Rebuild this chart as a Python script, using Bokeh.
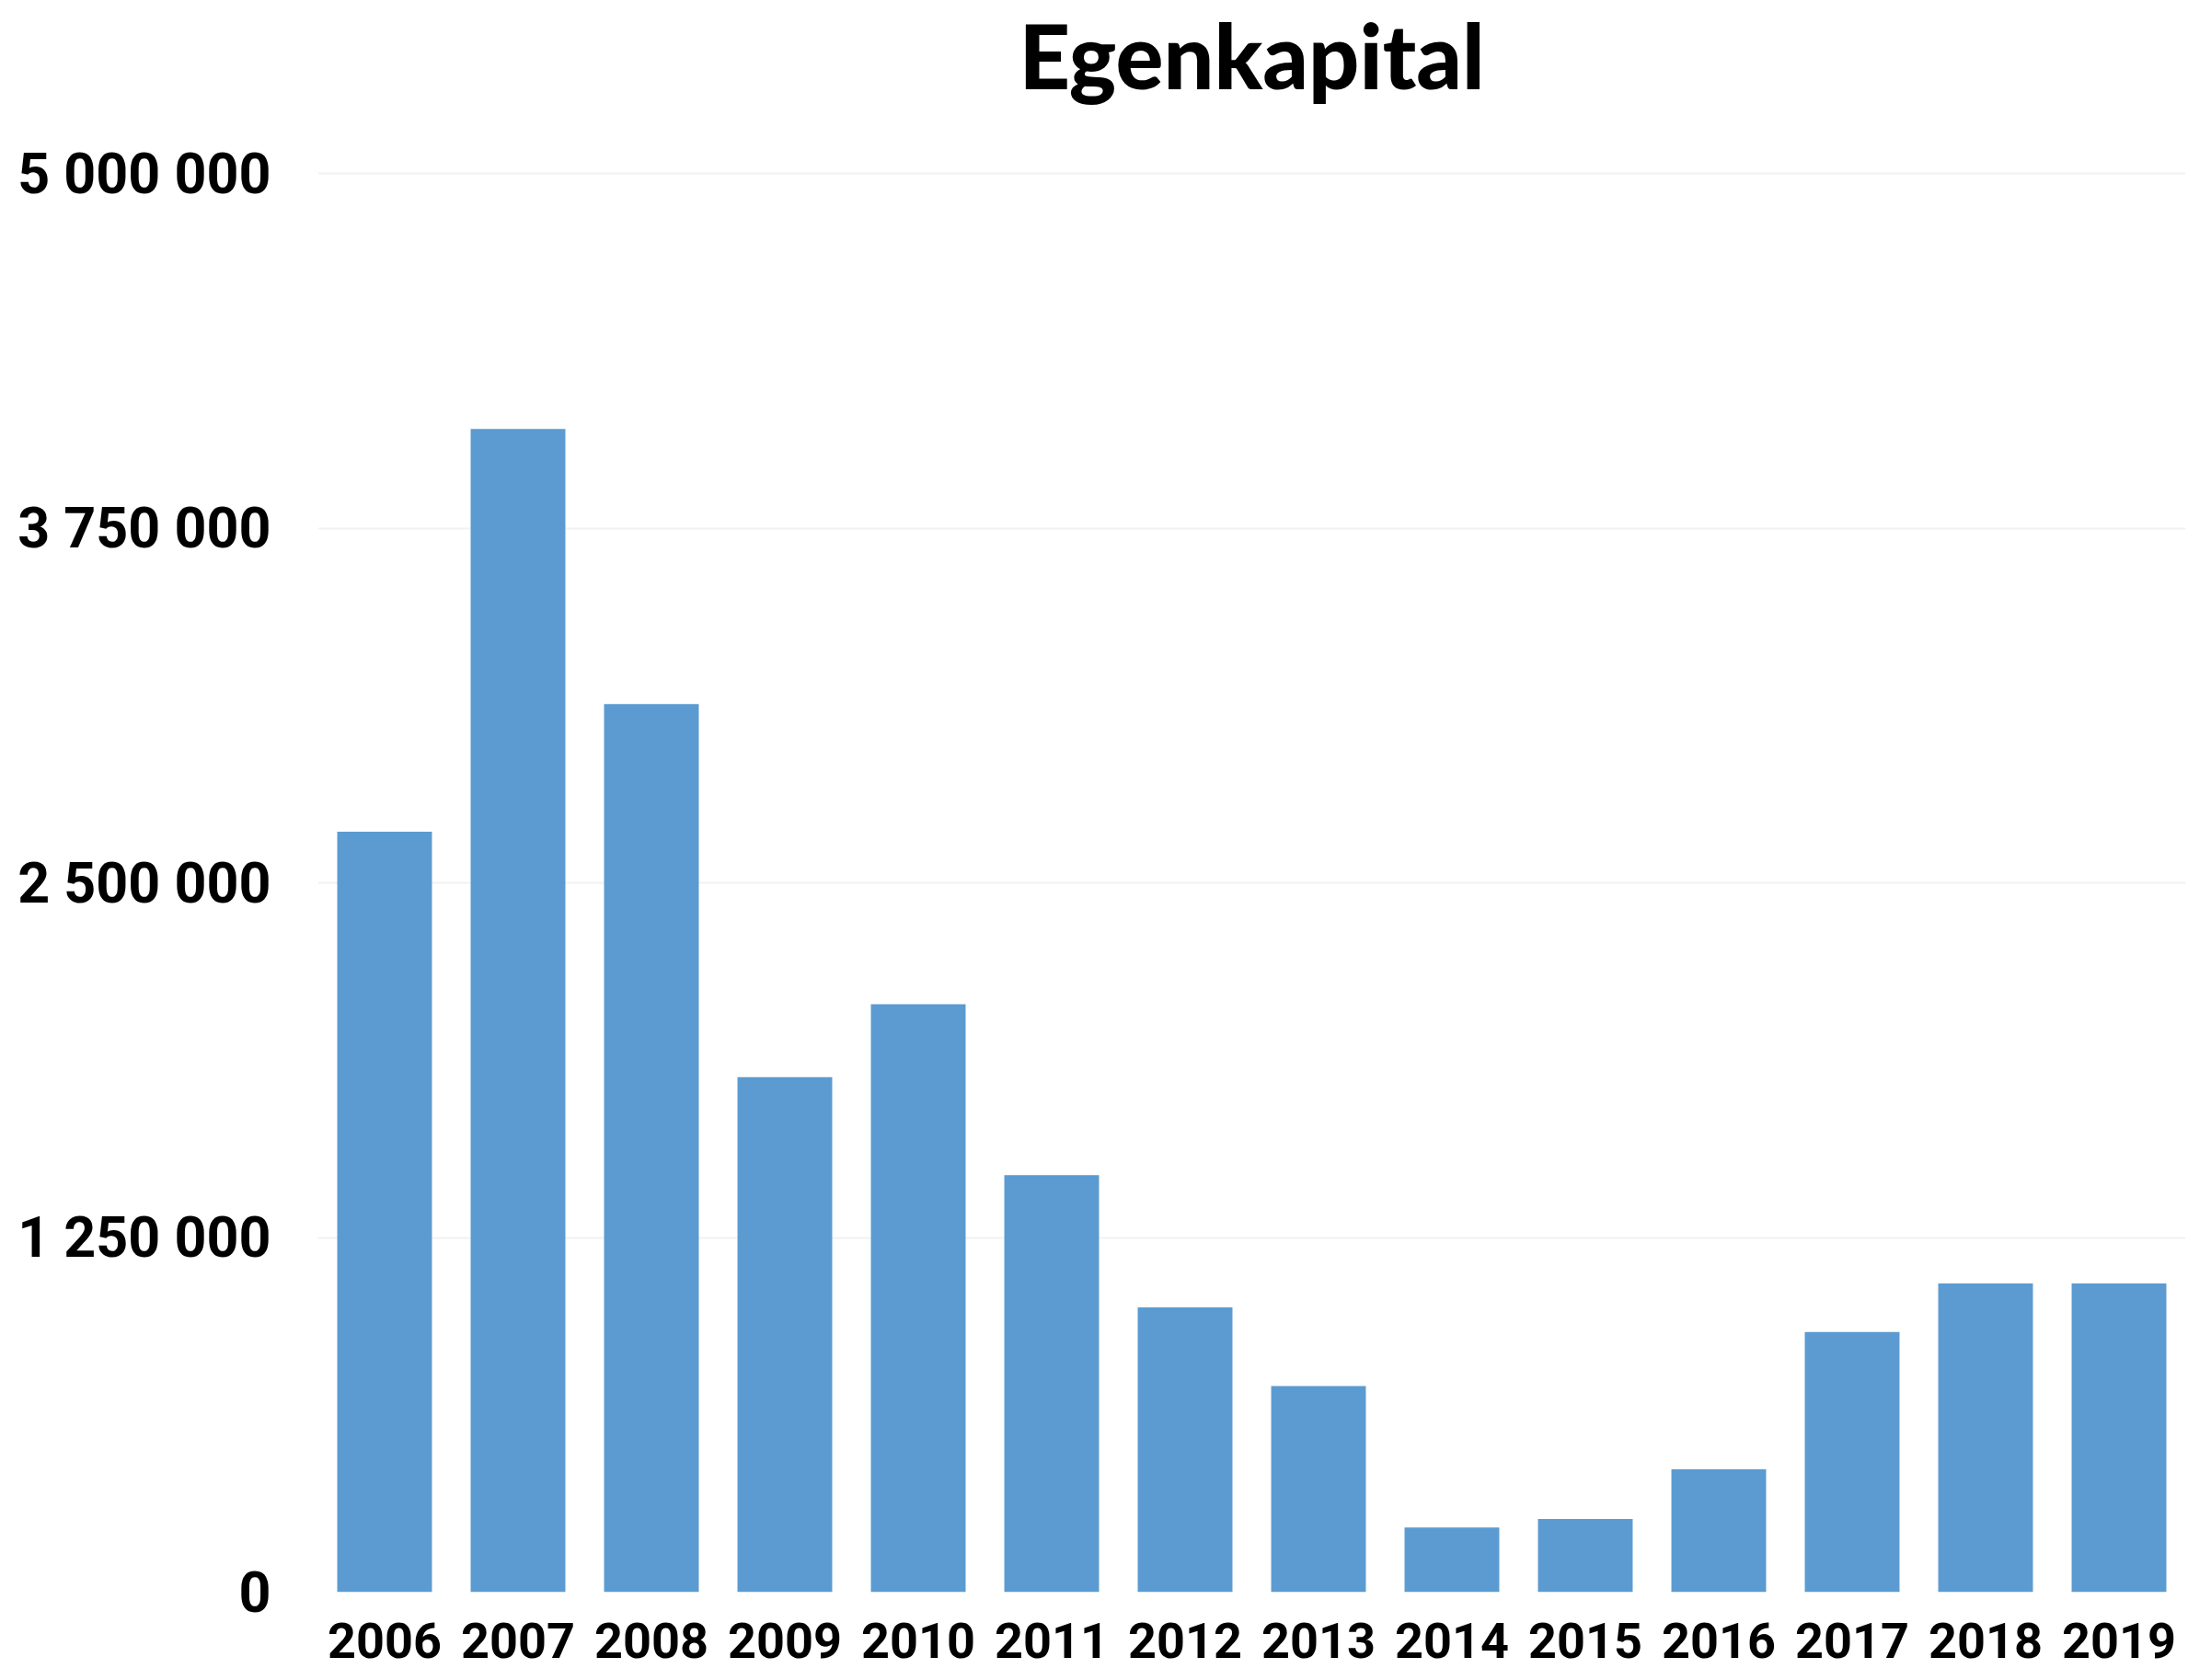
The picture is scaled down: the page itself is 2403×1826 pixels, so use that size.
from bokeh.plotting import figure
from bokeh.models import FixedTicker, Range1d, FactorRange, Title
from bokeh.embed import file_html
from bokeh.resources import INLINE

years = ["2006", "2007", "2008", "2009", "2010", "2011", "2012",
         "2013", "2014", "2015", "2016", "2017", "2018", "2019"]
egenkapital = [2680000, 4100000, 3130000, 1815000, 2072000, 1470000, 1004000,
               726000, 228000, 258000, 433000, 917000, 1088000, 1088000]
y_tick_values = [0, 1250000, 2500000, 3750000, 5000000]
y_tick_labels = ["0", "1 250 000", "2 500 000", "3 750 000", "5 000 000"]
title_text = "Egenkapital"

p = figure(
    x_range=FactorRange(factors=years, range_padding=0),
    y_range=Range1d(0, 5010000),
    width=2403, height=1826,
    output_backend="svg", toolbar_location=None,
    min_border_left=345, min_border_right=28, min_border_top=0,
    min_border_bottom=96,
)
p.vbar(x=years, top=egenkapital, width=0.71, color="#5b9bd1", line_color=None)

# spacer between frame and title (nearest the frame), then the real title
spacer = Title(text=" ", text_font_size="2px", standoff=62, text_color="#ffffff")
p.add_layout(spacer, "above")
main_title = Title(text=title_text, align="center", text_font="Lato Black, Lato",
                   text_font_style="bold", text_font_size="97px",
                   text_color="#000000", standoff=0, vertical_align="top")
p.add_layout(main_title, "above")

p.outline_line_color = None
p.xgrid.grid_line_color = None
p.ygrid.grid_line_color = "#f2f2f2"
p.ygrid.grid_line_width = 2
p.yaxis.ticker = FixedTicker(ticks=y_tick_values)
p.yaxis.major_label_overrides = {v: l for v, l in zip(y_tick_values, y_tick_labels)}

for ax in (p.xaxis[0], p.yaxis[0]):
    ax.axis_line_color = None
    ax.major_tick_line_color = None
    ax.minor_tick_line_color = None
    ax.major_tick_out = 0
    ax.major_tick_in = 0
    ax.major_label_text_font = "Roboto"
    ax.major_label_text_font_style = "bold"
    ax.major_label_text_color = "#000000"

p.yaxis.major_label_text_font_size = "61px"
p.yaxis.major_label_standoff = 51
p.xaxis.major_label_text_font_size = "54px"
p.xaxis.major_label_standoff = 33

open("out.html", "w").write(file_html(p, INLINE))
